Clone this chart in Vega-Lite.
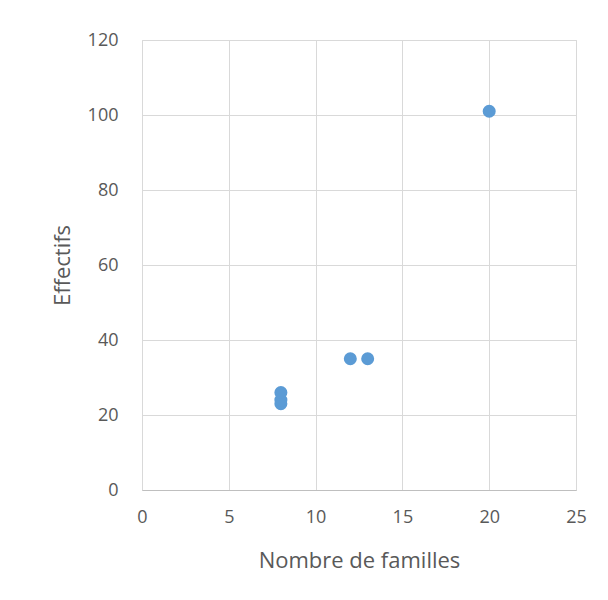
{
  "$schema": "https://vega.github.io/schema/vega-lite/v6.json",
  "width": 434,
  "height": 450,
  "autosize": {"type": "none"},
  "padding": {"left": 142, "top": 40, "right": 32, "bottom": 110},
  "background": "white",
  "data": {"values": [
    {"familles": 8, "effectifs": 23},
    {"familles": 8, "effectifs": 24},
    {"familles": 8, "effectifs": 26},
    {"familles": 12, "effectifs": 35},
    {"familles": 13, "effectifs": 35},
    {"familles": 20, "effectifs": 101}
  ]},
  "mark": {"type": "circle", "size": 170, "color": "#5B9BD5", "opacity": 1},
  "encoding": {
    "x": {"field": "familles", "type": "quantitative", "title": "Nombre de familles",
      "scale": {"domain": [0, 25], "nice": false},
      "axis": {"values": [0,5,10,15,20,25], "grid": true, "gridColor": "#D9D9D9", "domain": true, "domainColor": "#BFBFBF", "ticks": false, "labelFlush": false,
        "labelFont": "Open Sans", "labelFontSize": 18, "labelColor": "#595959", "labelPadding": 18,
        "titleFont": "Open Sans", "titleFontSize": 22, "titleFontWeight": "normal", "titleColor": "#595959", "titlePadding": 24}},
    "y": {"field": "effectifs", "type": "quantitative", "title": "Effectifs",
      "scale": {"domain": [0, 120], "nice": false},
      "axis": {"values": [0,20,40,60,80,100,120], "grid": true, "gridColor": "#D9D9D9", "domain": false, "ticks": false, "labelFlush": false,
        "labelFont": "Open Sans", "labelFontSize": 18, "labelColor": "#595959", "labelPadding": 24,
        "titleFont": "Open Sans", "titleFontSize": 22, "titleFontWeight": "normal", "titleColor": "#595959", "titlePadding": 13}}
  },
  "config": {"view": {"stroke": "#D9D9D9"}}
}
